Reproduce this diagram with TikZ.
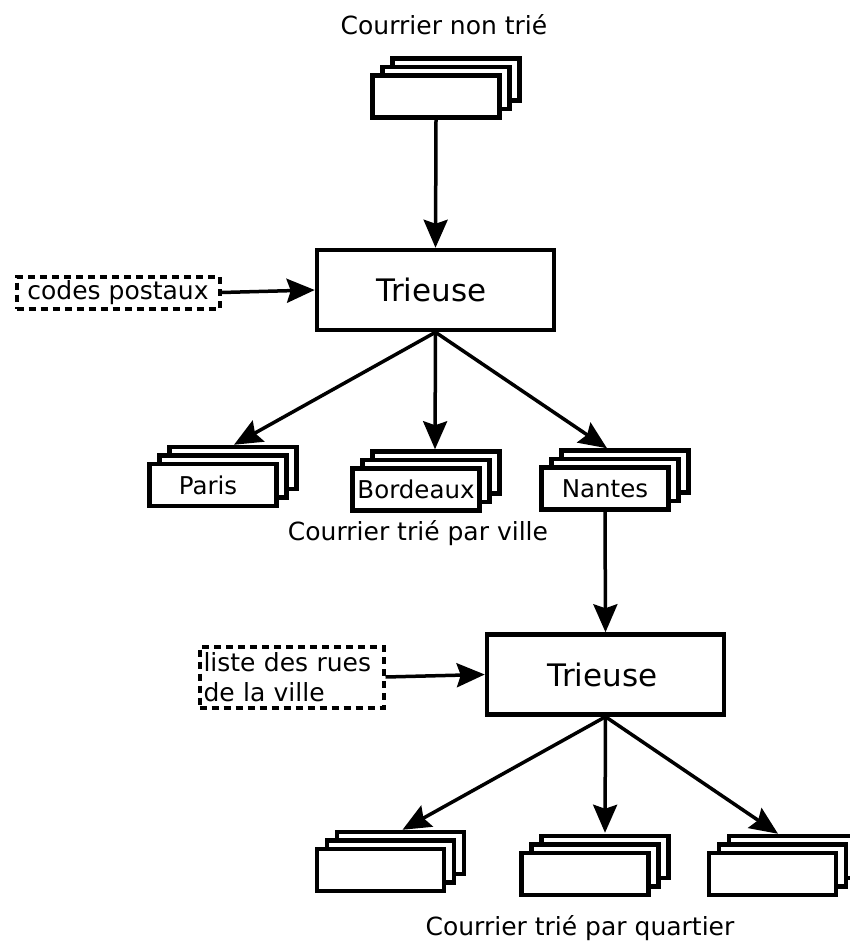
\documentclass[tikz,border=0pt]{standalone}
\usepackage{fontspec}
\setmainfont{DejaVu Sans}
\usetikzlibrary{arrows.meta,calc,shadows}

\begin{document}
\begin{tikzpicture}[x=1pt,y=-1pt,
    pile/.style={draw,fill=white,line width=4.5pt,minimum width=127pt,minimum height=42pt,
      inner sep=0pt,font=\fontsize{24.5}{29}\selectfont,
      double copy shadow={shadow xshift=10pt,shadow yshift=8.5pt}},
    trieuse/.style={draw,line width=4.5pt,minimum width=237pt,minimum height=80pt,
      inner sep=0pt,font=\fontsize{31}{37}\selectfont},
    regle/.style={draw,dashed,dash pattern=on 7pt off 5pt,line width=4pt,inner sep=0pt,
      font=\fontsize{25}{30}\selectfont,align=left},
    legende/.style={font=\fontsize{25}{30}\selectfont},
    fleche/.style={line width=3.5pt,-{Stealth[length=28pt,width=24pt,inset=4pt]}}]
		%%%%% START %%%%%
		\useasboundingbox (0,0) rectangle (850,941);
		
		\node[legende] (titre) at (444,25) {Courrier non trié};
		\node[pile] (courrier) at (436,96.5) {};
		
		\node[trieuse] (tri1) at (435.5,290) {\hspace*{-8pt}Trieuse};
		\node[regle,minimum width=203pt,minimum height=32pt] (codes) at (118,292.5) {codes postaux};
		
		\node[pile] (paris) at (213,485) {\hspace*{-10pt}Paris};
		\node[pile] (bordeaux) at (416,489.5) {Bordeaux};
		\node[pile] (nantes) at (605,488.5) {Nantes};
		\node[legende] (ville) at (418,533) {Courrier trié par ville};
		
		\node[trieuse] (tri2) at (605.5,674.5) {\hspace*{-6pt}Trieuse};
		\node[regle,minimum width=184pt,minimum height=61pt,text width=176pt] (rues) at (291.5,677) {liste des rues\\de la ville};
		
		\node[pile] (quartier1) at (380.5,870) {};
		\node[pile] (quartier2) at (585,874) {};
		\node[pile] (quartier3) at (772.5,874) {};
		\node[legende] (quartier) at (580,928) {Courrier trié par quartier};
		
		\draw[fleche] (courrier.south) -- (tri1.north);
		\draw[fleche] (codes.east) -- (tri1.west);
		\draw[fleche] (tri1.south) -- ($(paris.north)+(21pt,17pt)$);
		\draw[fleche] (tri1.south) -- ($(bordeaux.north)+(19pt,17pt)$);
		\draw[fleche] (tri1.south) -- ($(nantes.north)+(2pt,17pt)$);
		
		\draw[fleche] (nantes.south) -- (tri2.north);
		\draw[fleche] (rues.east) -- (tri2.west);
		\draw[fleche] (tri2.south) -- ($(quartier1.north)+(22pt,17pt)$);
		\draw[fleche] (tri2.south) -- ($(quartier2.north)+(20pt,18pt)$);
		\draw[fleche] (tri2.south) -- ($(quartier3.north)+(5.5pt,17pt)$);
		%%%%% END %%%%%
\end{tikzpicture}
\end{document}
